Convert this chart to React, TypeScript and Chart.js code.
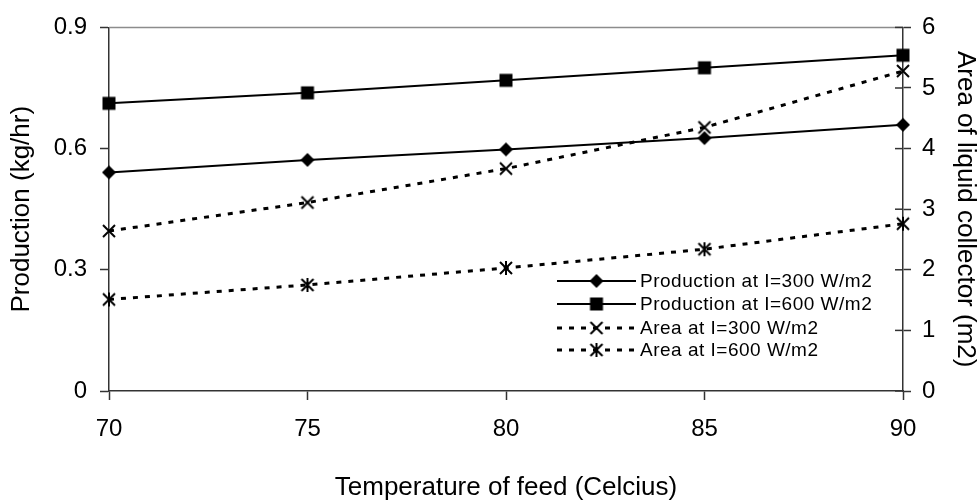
import React, { useEffect, useRef } from "react";
import { Chart, registerables } from "chart.js";

Chart.register(...registerables);

const temperatures = [70, 75, 80, 85, 90];
const production300 = [0.541, 0.572, 0.598, 0.626, 0.659];
const production600 = [0.712, 0.738, 0.769, 0.8, 0.831];
const area300 = [2.64, 3.11, 3.67, 4.35, 5.28];
const area600 = [1.51, 1.75, 2.03, 2.34, 2.76];

const xTicks = [70, 75, 80, 85, 90];
const yLeftTicks = [0, 0.3, 0.6, 0.9];
const yRightTicks = [0, 1, 2, 3, 4, 5, 6];

const seriesLabels = [
  "Production at I=300 W/m2",
  "Production at I=600 W/m2",
  "Area at I=300 W/m2",
  "Area at I=600 W/m2",
];

const FONT = "'Liberation Sans', Arial, sans-serif";

function makeMarker(kind: string): HTMLCanvasElement {
  const c = document.createElement("canvas");
  const s = 16;
  c.width = s;
  c.height = s;
  const g = c.getContext("2d")!;
  g.fillStyle = "#000";
  g.strokeStyle = "#000";
  const m = s / 2;
  if (kind === "diamond") {
    g.beginPath();
    g.moveTo(m, m - 7);
    g.lineTo(m + 7, m);
    g.lineTo(m, m + 7);
    g.lineTo(m - 7, m);
    g.closePath();
    g.fill();
  } else if (kind === "square") {
    g.fillRect(m - 6.5, m - 6.5, 13, 13);
  } else {
    g.lineWidth = 2;
    g.beginPath();
    g.moveTo(m - 6, m - 6);
    g.lineTo(m + 6, m + 6);
    g.moveTo(m + 6, m - 6);
    g.lineTo(m - 6, m + 6);
    if (kind === "star") {
      g.moveTo(m, m - 7);
      g.lineTo(m, m + 7);
    }
    g.stroke();
  }
  return c;
}

export default function App() {
  const ref = useRef<HTMLCanvasElement | null>(null);

  useEffect(() => {
    const canvas = ref.current;
    if (!canvas) return;
    const markers = [
      makeMarker("diamond"),
      makeMarker("square"),
      makeMarker("x"),
      makeMarker("star"),
    ];
    const dashes = [[], [], [5, 7], [5, 7]];

    const mk = (vals: number[]) => vals.map((v, i) => ({ x: temperatures[i], y: v }));

    const decor = {
      id: "decor",
      afterDatasetsDraw(chart: any) {
        const ctx = chart.ctx;
        const a = chart.chartArea;
        ctx.save();
        // top border
        ctx.strokeStyle = "#8c8c8c";
        ctx.lineWidth = 1.5;
        ctx.beginPath();
        ctx.moveTo(a.left, a.top);
        ctx.lineTo(a.right, a.top);
        ctx.stroke();
        // inner ticks on right axis
        const y1 = chart.scales.y1;
        ctx.strokeStyle = "#333";
        ctx.lineWidth = 1.5;
        yRightTicks.forEach((t) => {
          const py = y1.getPixelForValue(t);
          ctx.beginPath();
          ctx.moveTo(a.right - 8, py);
          ctx.lineTo(a.right, py);
          ctx.stroke();
        });
        // legend
        const rows = [281, 304, 328, 350];
        const x0 = 557;
        const x1 = 636;
        const xm = 596.5;
        ctx.font = `19px ${FONT}`;
        try {
          (ctx as any).letterSpacing = "0.5px";
        } catch (e) {}
        ctx.textBaseline = "middle";
        ctx.textAlign = "left";
        chart.data.datasets.forEach((ds: any, i: number) => {
          const y = rows[i];
          ctx.strokeStyle = "#000";
          ctx.lineWidth = ds.borderWidth;
          ctx.setLineDash(dashes[i]);
          ctx.beginPath();
          ctx.moveTo(x0, y);
          ctx.lineTo(x1, y);
          ctx.stroke();
          ctx.setLineDash([]);
          const mkr = markers[i];
          ctx.drawImage(mkr, xm - mkr.width / 2, y - mkr.height / 2);
          ctx.fillStyle = "#000";
          ctx.fillText(ds.label, x1 + 4, y + 1);
        });
        ctx.restore();
      },
    };

    const chart = new Chart(canvas, {
      type: "line",
      data: {
        datasets: [
          {
            label: seriesLabels[0],
            data: mk(production300),
            yAxisID: "y",
            borderColor: "#000",
            borderWidth: 2,
            pointStyle: markers[0],
            clip: false,
          },
          {
            label: seriesLabels[1],
            data: mk(production600),
            yAxisID: "y",
            borderColor: "#000",
            borderWidth: 2,
            pointStyle: markers[1],
            clip: false,
          },
          {
            label: seriesLabels[2],
            data: mk(area300),
            yAxisID: "y1",
            borderColor: "#000",
            borderWidth: 3,
            borderDash: dashes[2],
            pointStyle: markers[2],
            clip: false,
          },
          {
            label: seriesLabels[3],
            data: mk(area600),
            yAxisID: "y1",
            borderColor: "#000",
            borderWidth: 3,
            borderDash: dashes[3],
            pointStyle: markers[3],
            clip: false,
          },
        ] as any,
      },
      options: {
        responsive: false,
        animation: false,
        layout: { padding: { top: 23, left: 0, right: 0, bottom: 0 } },
        plugins: {
          legend: { display: false },
          tooltip: { enabled: false },
        },
        elements: { line: { tension: 0 } },
        scales: {
          x: {
            type: "linear",
            position: "bottom",
            min: 70,
            max: 90,
            afterBuildTicks: (s: any) => {
              s.ticks = xTicks.map((v) => ({ value: v }));
            },
            afterFit: (s: any) => {
              s.height = 110;
            },
            ticks: {
              color: "#000",
              font: { family: FONT, size: 24 },
              padding: 15,
              maxRotation: 0,
            },
            grid: {
              drawOnChartArea: false,
              tickLength: 9,
              tickColor: "#333",
              tickWidth: 1.5,
            },
            border: { color: "#333", width: 1.5 },
            title: {
              display: true,
              text: "Temperature of feed (Celcius)",
              color: "#000",
              font: { family: FONT, size: 26, lineHeight: 1 },
              padding: { top: 1, bottom: 0 },
            },
          },
          y: {
            type: "linear",
            position: "left",
            min: 0,
            max: 0.9,
            afterBuildTicks: (s: any) => {
              s.ticks = yLeftTicks.map((v) => ({ value: v }));
            },
            afterFit: (s: any) => {
              s.width = 109;
            },
            ticks: {
              color: "#000",
              font: { family: FONT, size: 24 },
              padding: 13,
              callback: (v: any) => String(v),
            },
            grid: {
              drawOnChartArea: false,
              tickLength: 9,
              tickColor: "#333",
              tickWidth: 1.5,
            },
            border: { color: "#333", width: 1.5 },
            title: {
              display: true,
              text: "Production (kg/hr)",
              color: "#000",
              font: { family: FONT, size: 26, lineHeight: 1 },
              padding: { top: 9, bottom: 0 },
            },
          },
          y1: {
            type: "linear",
            position: "right",
            min: 0,
            max: 6,
            afterBuildTicks: (s: any) => {
              s.ticks = yRightTicks.map((v) => ({ value: v }));
            },
            afterFit: (s: any) => {
              s.width = 76;
            },
            ticks: {
              color: "#000",
              font: { family: FONT, size: 24 },
              padding: 11,
              callback: (v: any) => String(v),
            },
            grid: {
              drawOnChartArea: false,
              tickLength: 8,
              tickColor: "#333",
              tickWidth: 1.5,
            },
            border: { color: "#333", width: 1.5 },
            title: {
              display: true,
              text: "Area of liquid collector (m2)",
              color: "#000",
              font: { family: FONT, size: 26, lineHeight: 1 },
              padding: { top: 1, bottom: 0 },
            },
          },
        },
      } as any,
      plugins: [decor],
    });

    return () => chart.destroy();
  }, []);

  return (
    <div style={{ position: "fixed", left: 0, top: 0, width: 979, height: 501, background: "#fff" }}>
      <canvas ref={ref} width={979} height={501} style={{ display: "block" }} />
    </div>
  );
}
